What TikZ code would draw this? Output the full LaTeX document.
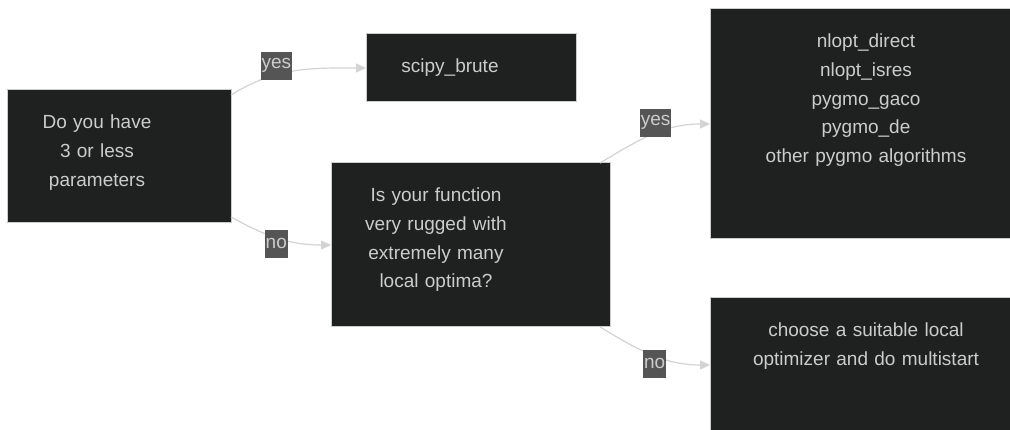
\documentclass[tikz,border=0pt]{standalone}
\usepackage{fontspec}
\setmainfont{Liberation Sans}
\usetikzlibrary{positioning,arrows.meta}

\definecolor{boxcolor}{RGB}{31,32,32}
\definecolor{bordercolor}{RGB}{204,204,204}
\definecolor{fontcolor}{RGB}{204,204,204}
\definecolor{labelcolor}{RGB}{85,85,85}
\definecolor{linecolor}{RGB}{211,211,211}

\begin{document}
\begin{tikzpicture}[thick,
	main/.style = {draw=bordercolor, line width=1pt, fill=boxcolor, text=fontcolor, anchor=north west, align=center, inner xsep=0pt, inner ysep=25pt, outer sep=0pt, text height=14pt, font=\fontsize{19pt}{28.6pt}\selectfont},
	shift text/.style = {execute at begin node={\leftskip=0pt plus 1fil\rightskip=#1 plus 1fil\parfillskip=0pt}},
	answer/.style = {fill=labelcolor, text=fontcolor, inner xsep=1pt, inner ysep=0pt, minimum height=28pt, font=\fontsize{19pt}{28.6pt}\selectfont},
	link/.style = {draw=linecolor, line width=1.2pt, -{Triangle[length=10pt,width=9pt]}}]
		\path[use as bounding box, fill=white] (0,0) rectangle (1010pt,-430pt);
		
		\node[main, text width=224pt, text depth=69pt, shift text=44pt] (Params) at (7pt,-90pt) {Do you have\\3 or less\\parameters};
		\node[main, text width=210pt, text depth=4pt, shift text=42pt, right=135pt of Params.north east, anchor=north west, yshift=56pt] (Brute) {scipy\_brute};
		\node[main, text width=279pt, text depth=100pt, shift text=69pt, right=100pt of Params.north east, anchor=north west, yshift=-73pt] (Rugged) {Is your function\\very rugged with\\extremely many\\local optima?};
		\node[main, text width=302pt, text depth=166pt, shift text=-10pt, right=100pt of Rugged.north east, anchor=north west, yshift=154pt] (Global) {nlopt\_direct\\nlopt\_isres\\pygmo\_gaco\\pygmo\_de\\other pygmo algorithms};
		\node[main, text width=302pt, text depth=70pt, shift text=-10pt, below=59pt of Global.south west, anchor=north west] (Local) {choose a suitable local\\optimizer and do multistart};
		
		\draw[link] ([yshift=-5pt]Params.north east) to[out=32, in=180] node[answer, pos=0.35, yshift=9pt] {yes} (Brute.west);
		\draw[link] ([yshift=6pt]Params.south east) to[out=-29, in=180] node[answer, pos=0.47, yshift=-6pt] {no} (Rugged.west);
		
		\draw[link] ([xshift=-10pt]Rugged.north east) to[out=31, in=180] node[answer, pos=0.53, yshift=11pt] {yes} (Global.west);
		\draw[link] ([xshift=-10pt]Rugged.south east) to[out=-31, in=180] node[answer, pos=0.52, yshift=-8pt] {no} (Local.west);
	\end{tikzpicture}
\end{document}
